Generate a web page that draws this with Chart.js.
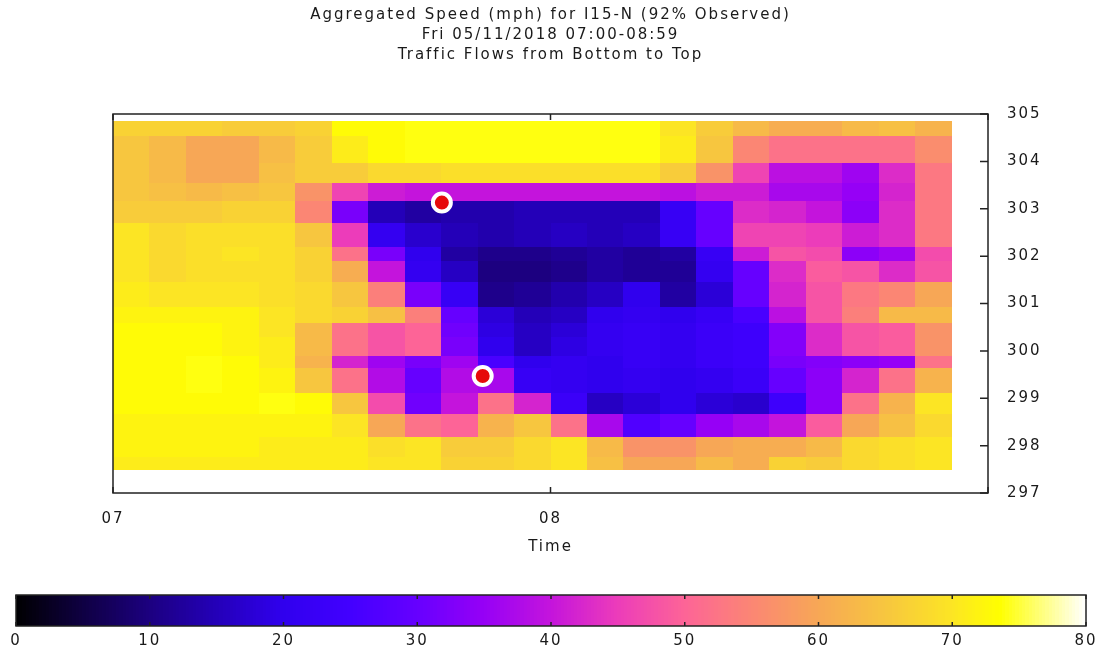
<!DOCTYPE html>
<html><head><meta charset="utf-8">
<script src="https://cdn.jsdelivr.net/npm/chart.js@4.4.0/dist/chart.umd.min.js"></script>
<style>
html,body{margin:0;padding:0;background:#fff;}
#wrap{position:relative;width:1102px;height:655px;overflow:hidden;background:#fff;}
#main{position:absolute;left:0;top:0;}
#cbar{position:absolute;left:0;top:570px;}
</style></head><body>
<div id="wrap">
<canvas id="main" width="1102" height="570"></canvas>
<canvas id="cbar" width="1102" height="85"></canvas>
</div>
<script>
// ---------------- data ----------------
const titleLines = [
  'Aggregated Speed (mph) for I15-N (92% Observed)',
  'Fri 05/11/2018 07:00-08:59',
  'Traffic Flows from Bottom to Top'
];
const xAxisTitle = 'Time';
// column start times, minutes after 07:00 (5-minute bins)
const timeBins = [0,5,10,15,20,25,30,35,40,45,50,55,60,65,70,75,80,85,90,95,100,105,110];
const binMinutes = 5;
// detector row boundaries (milepost), top to bottom
const rowEdges = [304.859,304.529,303.970,303.550,303.170,302.693,302.203,301.887,301.460,
                  300.932,300.582,300.299,299.902,299.632,299.104,298.657,298.172,297.766,297.496];
// speed (mph), one row per detector band, top to bottom
const speeds = [
  [67,67,67,66,66,67,73,73,74,74,74,74,74,74,74,70,66,63,61,61,63,64,62],
  [65,63,60,60,63,66,71,73,74,74,74,74,74,74,74,71,65,55,52,52,52,52,56],
  [65,63,60,60,64,66,66,68,68,69,69,69,69,69,69,66,57,46,39,39,36,43,53],
  [65,64,63,64,65,57,46,41,40,40,40,40,40,40,40,39,41,41,37,37,35,42,53],
  [66,66,66,67,67,55,32,15,13,14,14,15,15,15,15,22,30,43,42,40,34,43,53],
  [70,68,69,69,69,65,45,21,17,15,14,15,16,15,16,22,30,46,46,45,41,43,53],
  [70,68,69,70,69,67,52,32,20,13,11,11,12,13,12,13,22,41,48,47,34,36,47],
  [70,68,69,69,69,67,61,40,21,16,10,10,11,13,12,12,21,30,43,49,48,43,48],
  [71,70,70,70,69,68,65,54,32,22,11,12,14,16,20,13,18,30,42,48,53,55,60],
  [72,72,72,72,70,68,67,64,54,30,18,15,16,20,21,20,22,26,39,48,54,63,63],
  [73,73,73,72,70,63,52,48,50,31,19,16,18,21,22,21,23,24,33,43,48,49,57],
  [73,73,73,72,71,63,52,48,50,32,20,16,19,21,22,21,23,24,33,43,48,49,57],
  [73,73,74,73,71,62,42,36,32,36,26,20,21,20,22,21,23,24,32,33,34,35,52],
  [73,73,74,73,72,65,52,38,30,38,37,22,21,20,21,20,21,23,30,34,42,52,62],
  [73,73,73,73,74,73,65,47,31,40,52,42,23,16,18,20,18,17,24,34,52,62,70],
  [72,72,72,72,72,72,70,60,52,50,62,65,52,37,27,30,35,37,40,49,60,64,68],
  [72,72,72,72,71,71,71,69,70,66,66,68,70,63,57,57,60,61,61,63,68,69,70],
  [71,71,71,71,71,71,71,70,70,67,67,68,70,64,60,60,63,61,67,66,68,69,70]
];
const xTickValues = [0, 60, 120];
const xTickLabels = ['07', '08', ''];
const yTickValues = [297,298,299,300,301,302,303,304,305];
const incidents = [{x:45.1, y:303.13}, {x:50.7, y:299.47}];
const colorbarTicks = [0,10,20,30,40,50,60,70,80];

// ---------------- palette ----------------
const paletteStops = [
  [0,'#000000'],[5,'#0f0042'],[10,'#1c0080'],[15,'#2400b8'],[20,'#3000ee'],
  [25,'#4200ff'],[30,'#6600ff'],[35,'#9600f6'],[40,'#c414dc'],[45,'#ec3cba'],
  [50,'#fd6497'],[55,'#fb8674'],[60,'#f7a756'],[65,'#f7c63f'],[70,'#fce524'],
  [73.6,'#ffff00'],[80,'#ffffff']
];
function hex(h){return [parseInt(h.slice(1,3),16),parseInt(h.slice(3,5),16),parseInt(h.slice(5,7),16)];}
function colorFor(v){
  v = Math.max(0, Math.min(80, v));
  for (let i=0;i<paletteStops.length-1;i++){
    const [a,ca]=paletteStops[i],[b,cb]=paletteStops[i+1];
    if (v<=b){
      const t=(v-a)/(b-a), A=hex(ca), B=hex(cb);
      return 'rgb('+A.map((x,k)=>Math.round(x+(B[k]-x)*t)).join(',')+')';
    }
  }
  return paletteStops[paletteStops.length-1][1];
}

const FONT = 'DejaVu Sans';
const INK = '#1a1a1a';

const spacingPlugin = {
  id:'spacing',
  beforeDraw(chart){ chart.ctx.letterSpacing = '2px'; }
};

const cellsPlugin = {
  id:'cells',
  beforeDatasetsDraw(chart){
    const {ctx, chartArea:a, scales:{x, y}} = chart;
    ctx.save();
    for (let r=0;r<speeds.length;r++){
      const y0 = Math.round(y.getPixelForValue(rowEdges[r]));
      const y1 = Math.round(y.getPixelForValue(rowEdges[r+1]));
      for (let c=0;c<timeBins.length;c++){
        const x0 = Math.round(x.getPixelForValue(timeBins[c]));
        const x1 = Math.round(x.getPixelForValue(timeBins[c]+binMinutes));
        ctx.fillStyle = colorFor(speeds[r][c]);
        ctx.fillRect(x0, y0, x1-x0, y1-y0);
      }
    }
    // frame
    ctx.strokeStyle = '#222';
    ctx.lineWidth = 1.5;
    ctx.strokeRect(a.left, a.top, a.right-a.left, a.bottom-a.top);
    // inward ticks
    ctx.beginPath();
    yTickValues.forEach(v=>{
      const py = y.getPixelForValue(v);
      ctx.moveTo(a.right-8, py); ctx.lineTo(a.right, py);
    });
    xTickValues.forEach(v=>{
      const px = x.getPixelForValue(v);
      ctx.moveTo(px, a.bottom); ctx.lineTo(px, a.bottom-6);
      ctx.moveTo(px, a.top); ctx.lineTo(px, a.top+6);
    });
    ctx.stroke();
    ctx.restore();
  }
};

new Chart(document.getElementById('main'), {
  type:'scatter',
  data:{datasets:[{
    data: incidents,
    pointRadius:9, pointHoverRadius:9,
    backgroundColor:'#e60a0a', borderColor:'#ffffff', borderWidth:4
  }]},
  options:{
    responsive:false, animation:false, events:[],
    layout:{padding:{left:113,right:0,top:0,bottom:0}},
    plugins:{
      legend:{display:false}, tooltip:{enabled:false},
      title:{display:true, fullSize:false, text:titleLines, color:INK,
        font:{family:FONT, size:15, weight:'normal', lineHeight:'20px'},
        padding:{top:5,bottom:49}}
    },
    scales:{
      x:{type:'linear', min:0, max:120, position:'bottom',
        afterBuildTicks(s){ s.ticks = xTickValues.map(v=>({value:v})); },
        ticks:{callback:(v)=>{const i=xTickValues.indexOf(v);return i<0?'':xTickLabels[i];},
          color:INK, font:{family:FONT,size:15}, padding:17, maxRotation:0, autoSkip:false},
        grid:{display:false, drawTicks:false}, border:{display:false},
        title:{display:true, text:xAxisTitle, color:INK, font:{family:FONT,size:15,lineHeight:'20px'}, padding:{top:0,bottom:13}},
        afterFit(s){ s.height = 77; }
      },
      y:{type:'linear', min:297, max:305, position:'right',
        afterBuildTicks(s){ s.ticks = yTickValues.map(v=>({value:v})); },
        ticks:{color:INK, font:{family:FONT,size:15}, padding:19},
        grid:{display:false, drawTicks:false}, border:{display:false},
        afterFit(s){ s.width = 114; }
      }
    }
  },
  plugins:[spacingPlugin, cellsPlugin]
});

const colorbarPlugin = {
  id:'colorbar',
  beforeDatasetsDraw(chart){
    const {ctx, chartArea:a, scales:{x}} = chart;
    ctx.save();
    const step = 0.25;
    for (let v=0; v<80; v+=step){
      const x0 = Math.floor(x.getPixelForValue(v));
      const x1 = Math.ceil(x.getPixelForValue(v+step));
      ctx.fillStyle = colorFor(v+step/2);
      ctx.fillRect(x0, a.top, x1-x0, a.bottom-a.top);
    }
    ctx.strokeStyle = '#222';
    ctx.lineWidth = 1.5;
    ctx.beginPath();
    colorbarTicks.forEach(v=>{
      const px = x.getPixelForValue(v);
      ctx.moveTo(px, a.top); ctx.lineTo(px, a.top+4);
      ctx.moveTo(px, a.bottom); ctx.lineTo(px, a.bottom-4);
    });
    ctx.stroke();
    ctx.strokeRect(a.left, a.top, a.right-a.left, a.bottom-a.top);
    ctx.restore();
  }
};

new Chart(document.getElementById('cbar'), {
  type:'scatter',
  data:{datasets:[{data:[]}]},
  options:{
    responsive:false, animation:false, events:[],
    layout:{padding:{left:16,right:16,top:25,bottom:0}},
    plugins:{legend:{display:false}, tooltip:{enabled:false}},
    scales:{
      x:{type:'linear', min:0, max:80, position:'bottom',
        afterBuildTicks(s){ s.ticks = colorbarTicks.map(v=>({value:v})); },
        ticks:{color:INK, font:{family:FONT,size:15}, padding:6, maxRotation:0, autoSkip:false},
        grid:{display:false, drawTicks:false}, border:{display:false},
        afterFit(s){ s.height = 29; }
      },
      y:{display:false, min:0, max:1}
    }
  },
  plugins:[spacingPlugin, colorbarPlugin]
});
</script>
</body></html>
